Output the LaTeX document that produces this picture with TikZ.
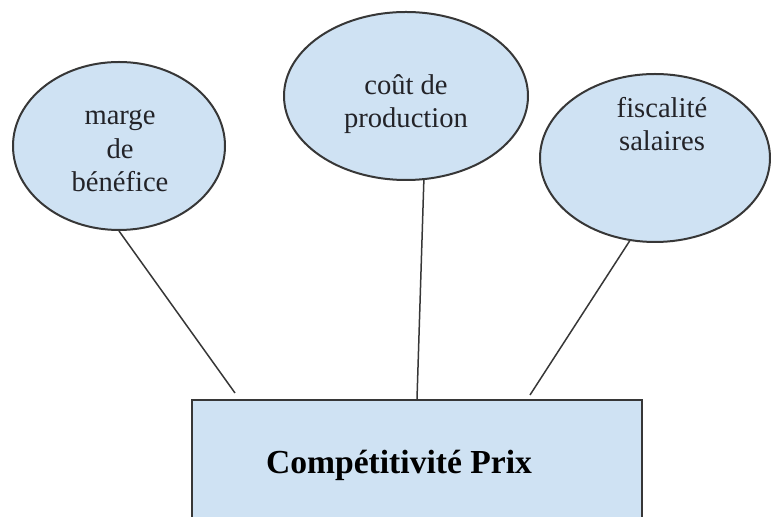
\documentclass[tikz,border=0pt]{standalone}
\usepackage{fontspec}
\setmainfont{Liberation Serif}
\usetikzlibrary{shapes.geometric}
\definecolor{bubblefill}{RGB}{207,226,243}
\definecolor{edgegray}{RGB}{55,55,55}
\definecolor{inkgray}{RGB}{35,35,40}
\tikzset{
	bubble/.style={ellipse,draw=edgegray,line width=1pt,fill=bubblefill,inner sep=0pt},
	note/.style={align=center,text=inkgray,font=\fontsize{14.3}{16.7}\selectfont},
	panel/.style={rectangle,draw=edgegray,line width=1pt,fill=bubblefill,inner sep=0pt},
	link/.style={draw=edgegray,line width=0.75pt}
}
\begin{document}
\begin{tikzpicture}[x=0.5pt,y=-0.5pt]
		\useasboundingbox (0,0) rectangle (771,517);
		\clip (0,0) rectangle (771,517);
		\node[bubble,minimum width=106pt,minimum height=84pt] (marge) at (119,146) {};
		\node[bubble,minimum width=122pt,minimum height=84pt] (cout) at (406,96) {};
		\node[bubble,minimum width=115pt,minimum height=84pt] (fisc) at (655,158) {};
		\node[note] (margetext) at (120,151) {marge\\de\\bénéfice};
		\node[note] (couttext) at (406,104) {coût de\\production};
		\node[note] (fisctext) at (662,124) {fiscalité\\salaires};
		\node[panel,minimum width=225pt,minimum height=73pt,anchor=north] (boxprix) at (417,399) {};
		\node[text=black,font=\fontsize{16.8}{20}\selectfont\bfseries] (titre) at (399,465) {Compétitivité Prix};
		\coordinate (m1) at (235,393);
		\coordinate (f1) at (530,395);
		\draw[link] (marge.south) -- (m1);
		\draw[link] (cout.-78) -- (boxprix.north);
		\draw[link] (fisc.-107) -- (f1);
	\end{tikzpicture}
\end{document}
